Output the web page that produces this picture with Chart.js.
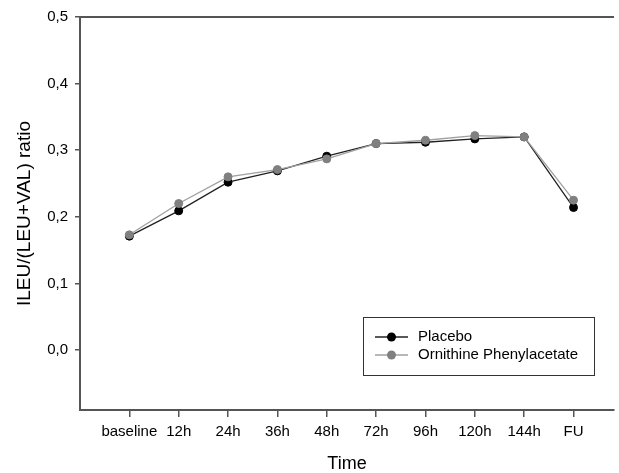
<!DOCTYPE html>
<html>
<head>
<meta charset="utf-8">
<title>ILEU/(LEU+VAL) ratio over time</title>
<script src="https://cdn.jsdelivr.net/npm/chart.js@4.4.1/dist/chart.umd.min.js"></script>
<style>
  html, body { margin: 0; padding: 0; background: #fff; }
  #chart { display: block; }
</style>
</head>
<body>
<canvas id="chart" width="619" height="473"></canvas>
<script>
// data
var categories = ["baseline", "12h", "24h", "36h", "48h", "72h", "96h", "120h", "144h", "FU"];
var placebo = [0.171, 0.209, 0.252, 0.269, 0.291, 0.310, 0.312, 0.317, 0.320, 0.214];
var ornithine = [0.173, 0.220, 0.260, 0.271, 0.287, 0.310, 0.315, 0.322, 0.320, 0.225];
var yTicks = [0.0, 0.1, 0.2, 0.3, 0.4, 0.5];

var FONT = "'Liberation Sans', Arial, sans-serif";
var AXIS = "#555";

function toPoints(arr) {
  return arr.map(function (v, i) { return { x: i, y: v }; });
}

// top frame line + legend box inside the plot
var framePlugin = {
  id: "frame",
  afterDraw: function (chart) {
    var ctx = chart.ctx, a = chart.chartArea;
    ctx.save();
    ctx.strokeStyle = AXIS;
    ctx.lineWidth = 2;
    ctx.beginPath();
    ctx.moveTo(a.left, a.top);
    ctx.lineTo(a.right, a.top);
    ctx.stroke();

    // legend
    ctx.lineWidth = 1;
    ctx.strokeStyle = "#333";
    ctx.strokeRect(363.5, 317.5, 231, 58);
    var items = [
      { label: "Placebo", line: "#222", fill: "#000", y: 337 },
      { label: "Ornithine Phenylacetate", line: "#a0a0a0", fill: "#808080", y: 355 }
    ];
    items.forEach(function (it) {
      ctx.strokeStyle = it.line;
      ctx.lineWidth = 1.3;
      ctx.beginPath();
      ctx.moveTo(375, it.y);
      ctx.lineTo(408, it.y);
      ctx.stroke();
      ctx.fillStyle = it.fill;
      ctx.beginPath();
      ctx.arc(391.5, it.y, 4.5, 0, Math.PI * 2);
      ctx.fill();
      ctx.fillStyle = "#000";
      ctx.font = "15px " + FONT;
      ctx.textBaseline = "middle";
      ctx.textAlign = "left";
      ctx.fillText(it.label, 418, it.y);
    });
    ctx.restore();
  }
};

var ctx = document.getElementById("chart").getContext("2d");
new Chart(ctx, {
  type: "line",
  data: {
    datasets: [
      {
        label: "Placebo",
        data: toPoints(placebo),
        borderColor: "#222",
        borderWidth: 1.3,
        pointRadius: 4,
        pointBorderWidth: 1,
        pointBackgroundColor: "#000",
        pointBorderColor: "#000",
        tension: 0,
        order: 2
      },
      {
        label: "Ornithine Phenylacetate",
        data: toPoints(ornithine),
        borderColor: "#a0a0a0",
        borderWidth: 1.3,
        pointRadius: 4,
        pointBorderWidth: 1,
        pointBackgroundColor: "#808080",
        pointBorderColor: "#808080",
        tension: 0,
        order: 1
      }
    ]
  },
  options: {
    responsive: false,
    animation: false,
    layout: { padding: { top: 17, right: 0, bottom: 0, left: 0 } },
    plugins: {
      legend: { display: false },
      tooltip: { enabled: false }
    },
    scales: {
      x: {
        type: "linear",
        min: -1,
        max: 9.82,
        afterBuildTicks: function (scale) {
          scale.ticks = categories.map(function (c, i) { return { value: i }; });
        },
        afterFit: function (scale) { scale.height = 63; },
        grid: { drawOnChartArea: false, tickLength: 7, color: AXIS, lineWidth: 1.5 },
        border: { display: true, color: AXIS, width: 2 },
        ticks: {
          autoSkip: false,
          maxRotation: 0,
          padding: 6,
          color: "#000",
          font: { family: FONT, size: 15 },
          callback: function (v) { return categories[v]; }
        },
        title: {
          display: true,
          text: "Time",
          color: "#000",
          font: { family: FONT, size: 18, lineHeight: 1 },
          padding: 0
        }
      },
      y: {
        min: -0.09,
        max: 0.5,
        afterBuildTicks: function (scale) {
          scale.ticks = yTicks.map(function (v) { return { value: v }; });
        },
        afterFit: function (scale) { scale.width = 80; },
        grid: { drawOnChartArea: false, tickLength: 5, color: AXIS, lineWidth: 1.5 },
        border: { display: true, color: AXIS, width: 2 },
        ticks: {
          padding: 7,
          color: "#000",
          font: { family: FONT, size: 15 },
          callback: function (v) { return v.toFixed(1).replace(".", ","); }
        },
        title: {
          display: true,
          text: "ILEU/(LEU+VAL) ratio",
          color: "#000",
          font: { family: FONT, size: 19 },
          padding: { top: 13, bottom: 0 }
        }
      }
    }
  },
  plugins: [framePlugin]
});
</script>
</body>
</html>
